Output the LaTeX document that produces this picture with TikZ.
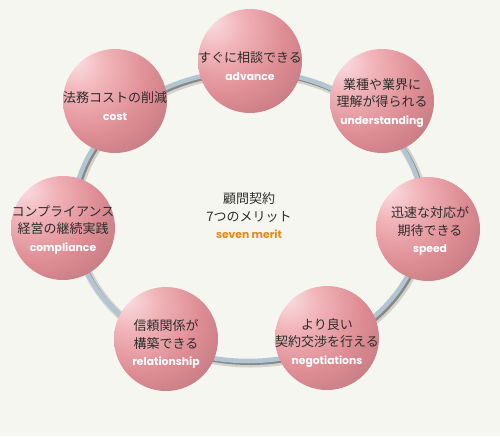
\documentclass[tikz,border=0pt]{standalone}
\usepackage{fontspec}
\newfontfamily\jp{Noto Sans CJK JP}
\newfontfamily\en{Poppins}
\definecolor{bg}{RGB}{246,246,241}
\definecolor{pkA}{RGB}{250,224,227}
\definecolor{pkB}{RGB}{241,180,185}
\definecolor{pkC}{RGB}{222,140,148}
\definecolor{pkD}{RGB}{172,108,114}
\definecolor{ringc}{RGB}{178,197,210}
\definecolor{jptxt}{RGB}{45,45,45}
\definecolor{orangetxt}{RGB}{232,138,26}
\pgfdeclareradialshading{pinkball}{\pgfpoint{-20bp}{20bp}}{color(0bp)=(pkA); color(13bp)=(pkB); color(30bp)=(pkC); color(55bp)=(pkD); color(90bp)=(pkD)}
\tikzset{
  ball/.style={circle, minimum size=104pt, inner sep=0pt, shading=pinkball},
  lbl/.style={align=center, text=jptxt, font=\jp\fontsize{13}{17.5}\selectfont, inner sep=0pt},
}
\newcommand{\entag}[1]{{\en\bfseries\fontsize{10.8}{17.5}\selectfont\color{white}#1}}
\begin{document}
\begin{tikzpicture}[x=1pt,y=-1pt]
\useasboundingbox (0,0) rectangle (500,436);
\fill[bg] (0,0) rectangle (500,436);
% ring
\draw[black, opacity=0.15, line width=8pt] ([shift={(2.5,2.5)}]248,216) ellipse [x radius=175pt, y radius=145pt];
\draw[black, opacity=0.35, line width=4pt] ([shift={(2,2)}]248,216) ellipse [x radius=175pt, y radius=145pt];
\draw[ringc, line width=4.5pt] (248,216) ellipse [x radius=175pt, y radius=145pt];
% circles
\node[ball] (adv) at (250,61) {};
\node[ball] (und) at (382,101) {};
\node[ball] (spd) at (428,229) {};
\node[ball] (neg) at (327,338) {};
\node[ball] (rel) at (166,339) {};
\node[ball] (cmp) at (63,228) {};
\node[ball] (cst) at (115,101) {};
% texts
\node[lbl] (tadv) at (250,66) {すぐに相談できる\\\entag{advance}};
\node[lbl] (tund) at (382,103) {業種や業界に\\理解が得られる\\\entag{understanding}};
\node[lbl] (tspd) at (430,231) {迅速な対応が\\期待できる\\\entag{speed}};
\node[lbl] (tneg) at (327,343) {より良い\\契約交渉を行える\\\entag{negotiations}};
\node[lbl] (trel) at (166,344) {信頼関係が\\構築できる\\\entag{relationship}};
\node[lbl] (tcmp) at (63,230) {コンプライアンス\\経営の継続実践\\\entag{compliance}};
\node[lbl] (tcst) at (115,106) {法務コストの削減\\\entag{cost}};
\node[lbl] (tctr) at (249,216) {顧問契約\\7つのメリット\\{\en\bfseries\fontsize{10.8}{17.5}\selectfont\color{orangetxt}seven merit}};
\end{tikzpicture}
\end{document}
